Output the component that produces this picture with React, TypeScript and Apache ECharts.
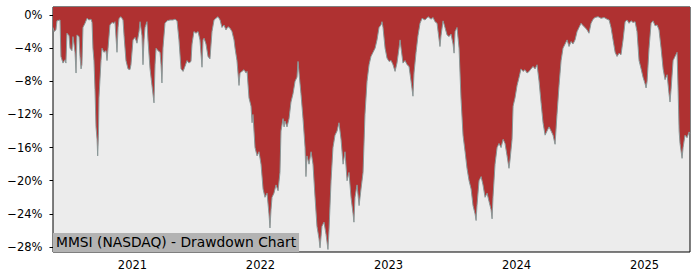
import React, { useEffect, useRef } from "react";
import * as echarts from "echarts";

// Time in decimal years
const dates: number[] = [
  2020.379, 2020.387, 2020.402, 2020.410, 2020.434, 2020.441, 2020.457, 2020.473, 2020.480, 2020.488,
  2020.504, 2020.512, 2020.527, 2020.535, 2020.551, 2020.559, 2020.566, 2020.582, 2020.590, 2020.598,
  2020.605, 2020.613, 2020.629, 2020.645, 2020.660, 2020.676, 2020.684, 2020.691, 2020.699, 2020.707,
  2020.715, 2020.723, 2020.728, 2020.734, 2020.738, 2020.754, 2020.762, 2020.777, 2020.793, 2020.801,
  2020.809, 2020.824, 2020.840, 2020.855, 2020.863, 2020.879, 2020.887, 2020.895, 2020.910, 2020.926,
  2020.934, 2020.949, 2020.965, 2020.980, 2020.988, 2021.004, 2021.020, 2021.035, 2021.051, 2021.059,
  2021.074, 2021.082, 2021.090, 2021.098, 2021.113, 2021.121, 2021.137, 2021.152, 2021.168, 2021.176,
  2021.184, 2021.199, 2021.215, 2021.223, 2021.230, 2021.238, 2021.254, 2021.270, 2021.293, 2021.316,
  2021.332, 2021.348, 2021.363, 2021.379, 2021.395, 2021.410, 2021.426, 2021.441, 2021.457, 2021.465,
  2021.480, 2021.496, 2021.512, 2021.527, 2021.543, 2021.551, 2021.559, 2021.574, 2021.590, 2021.605,
  2021.621, 2021.637, 2021.652, 2021.668, 2021.684, 2021.699, 2021.715, 2021.730, 2021.746, 2021.762,
  2021.777, 2021.793, 2021.801, 2021.816, 2021.832, 2021.840, 2021.855, 2021.871, 2021.887, 2021.895,
  2021.910, 2021.926, 2021.934, 2021.941, 2021.957, 2021.973, 2021.988, 2022.004, 2022.020, 2022.035,
  2022.051, 2022.066, 2022.074, 2022.082, 2022.090, 2022.105, 2022.121, 2022.137, 2022.152, 2022.160,
  2022.176, 2022.184, 2022.191, 2022.207, 2022.223, 2022.238, 2022.254, 2022.270, 2022.285, 2022.293,
  2022.301, 2022.316, 2022.332, 2022.348, 2022.355, 2022.363, 2022.379, 2022.395, 2022.410, 2022.426,
  2022.441, 2022.457, 2022.465, 2022.480, 2022.496, 2022.512, 2022.527, 2022.535, 2022.551, 2022.566,
  2022.582, 2022.598, 2022.613, 2022.629, 2022.645, 2022.660, 2022.676, 2022.691, 2022.707, 2022.723,
  2022.730, 2022.738, 2022.754, 2022.770, 2022.785, 2022.801, 2022.816, 2022.832, 2022.848, 2022.863,
  2022.879, 2022.895, 2022.910, 2022.926, 2022.941, 2022.949, 2022.957, 2022.973, 2022.988, 2023.004,
  2023.020, 2023.035, 2023.051, 2023.066, 2023.082, 2023.090, 2023.098, 2023.113, 2023.129, 2023.145,
  2023.160, 2023.176, 2023.191, 2023.199, 2023.215, 2023.230, 2023.246, 2023.262, 2023.285, 2023.309,
  2023.332, 2023.348, 2023.363, 2023.379, 2023.387, 2023.402, 2023.410, 2023.426, 2023.441, 2023.457,
  2023.473, 2023.488, 2023.504, 2023.512, 2023.520, 2023.535, 2023.551, 2023.566, 2023.582, 2023.598,
  2023.613, 2023.629, 2023.645, 2023.660, 2023.676, 2023.684, 2023.691, 2023.707, 2023.723, 2023.738,
  2023.754, 2023.770, 2023.785, 2023.801, 2023.809, 2023.816, 2023.832, 2023.848, 2023.863, 2023.879,
  2023.895, 2023.910, 2023.926, 2023.941, 2023.949, 2023.965, 2023.973, 2023.988, 2024.004, 2024.020,
  2024.035, 2024.051, 2024.066, 2024.082, 2024.098, 2024.113, 2024.129, 2024.145, 2024.160, 2024.176,
  2024.191, 2024.207, 2024.223, 2024.238, 2024.254, 2024.270, 2024.285, 2024.301, 2024.316, 2024.332,
  2024.348, 2024.363, 2024.379, 2024.395, 2024.410, 2024.426, 2024.441, 2024.457, 2024.473, 2024.488,
  2024.504, 2024.520, 2024.535, 2024.551, 2024.566, 2024.582, 2024.598, 2024.613, 2024.637, 2024.660,
  2024.684, 2024.707, 2024.723, 2024.738, 2024.754, 2024.770, 2024.785, 2024.801, 2024.816, 2024.832,
  2024.848, 2024.863, 2024.879, 2024.895, 2024.910, 2024.926, 2024.941, 2024.957, 2024.973, 2024.988,
  2025.004, 2025.012, 2025.020, 2025.035, 2025.051, 2025.066, 2025.082, 2025.098, 2025.113, 2025.129,
  2025.145, 2025.160, 2025.176, 2025.191, 2025.199, 2025.207, 2025.223, 2025.238, 2025.254, 2025.262,
  2025.270, 2025.277, 2025.293, 2025.301, 2025.316, 2025.332, 2025.348, 2025.355,
];

// Drawdown in percent
const drawdown: number[] = [
  -1.5, -2.0, -1.8, -0.7, -0.6, -5.0, -5.8, -5.4, -5.8, -2.2,
  -2.5, -4.0, -4.3, -2.6, -4.5, -7.0, -2.4, -2.6, -5.0, -6.5,
  -6.0, -1.5, -1.0, -0.4, -0.6, -0.5, -0.9, -4.0, -5.5, -9.0,
  -13.5, -15.0, -17.0, -14.5, -10.0, -5.5, -4.0, -4.5, -4.3, -5.5,
  -4.0, -1.2, -0.9, -1.0, -0.8, -4.5, -1.5, -0.4, -0.2, -0.6,
  -2.5, -5.5, -6.5, -6.6, -6.0, -3.0, -2.7, -3.4, -2.0, -0.8,
  -2.5, -6.0, -3.0, -1.5, -0.8, -3.0, -6.5, -8.5, -10.6, -6.0,
  -4.0, -4.3, -4.5, -6.0, -8.2, -4.0, -1.0, -0.7, -0.6, -0.6,
  -0.5, -0.7, -3.0, -6.5, -6.8, -6.2, -5.5, -5.8, -5.6, -3.5,
  -2.0, -2.2, -2.0, -3.0, -6.3, -3.0, -2.8, -3.5, -5.0, -5.3,
  -2.0, -0.6, -0.4, -0.2, -0.6, -1.5, -1.2, -1.8, -1.4, -1.6,
  -2.0, -3.0, -4.0, -5.5, -8.5, -7.0, -6.8, -6.6, -7.0, -6.8,
  -10.0, -11.0, -13.0, -12.0, -16.0, -17.0, -16.5, -18.0, -21.0, -22.0,
  -21.5, -24.0, -25.7, -23.5, -22.0, -21.5, -20.5, -21.2, -19.0, -14.0,
  -12.5, -13.5, -12.8, -13.5, -12.5, -10.5, -9.5, -8.0, -7.5, -5.6,
  -7.0, -9.5, -12.5, -16.0, -19.5, -17.0, -18.0, -16.5, -18.0, -22.0,
  -25.5, -27.0, -28.1, -25.5, -25.0, -26.5, -28.3, -26.0, -20.0, -16.0,
  -14.5, -14.0, -13.0, -15.0, -18.0, -16.5, -20.0, -19.0, -22.0, -24.0,
  -25.0, -22.0, -20.5, -23.0, -21.0, -19.0, -12.0, -8.0, -6.0, -5.0,
  -4.5, -4.0, -3.0, -1.5, -1.2, -0.8, -1.5, -4.0, -5.2, -5.6,
  -5.5, -6.0, -6.8, -5.8, -4.0, -3.0, -4.0, -5.8, -5.5, -6.0,
  -6.2, -8.0, -9.8, -7.0, -4.5, -2.5, -1.0, -0.4, -0.6, -0.2,
  -0.5, -0.3, -0.8, -1.0, -2.0, -3.8, -2.5, -0.7, -1.5, -2.4,
  -2.6, -2.3, -3.5, -4.6, -2.0, -1.5, -4.0, -10.0, -14.5, -16.5,
  -18.5, -20.0, -21.0, -23.0, -24.0, -24.8, -23.0, -20.0, -19.5, -20.5,
  -22.0, -21.5, -22.5, -23.5, -24.6, -22.0, -18.0, -16.0, -15.5, -16.0,
  -15.0, -15.5, -17.0, -18.5, -17.5, -15.0, -11.0, -10.0, -8.5, -7.5,
  -6.5, -6.8, -6.6, -7.0, -6.8, -6.5, -6.2, -6.5, -6.0, -8.0,
  -10.5, -13.0, -14.5, -14.0, -13.5, -14.0, -14.5, -15.6, -12.0, -8.5,
  -5.5, -4.0, -3.5, -3.0, -3.8, -3.2, -3.5, -3.0, -2.0, -1.5,
  -1.0, -1.3, -1.5, -1.8, -2.2, -1.0, -0.5, -0.3, -0.2, -0.4,
  -0.3, -0.5, -0.6, -1.5, -3.0, -4.5, -5.0, -4.6, -4.8, -3.0,
  -0.8, -0.6, -1.0, -0.7, -0.9, -0.8, -2.0, -5.5, -6.5, -7.5,
  -8.3, -8.8, -8.0, -4.0, -1.0, -0.7, -1.3, -1.2, -1.8, -4.0,
  -6.5, -7.8, -7.2, -9.5, -10.5, -9.0, -5.5, -5.0, -4.5, -9.0,
  -14.0, -15.5, -17.3, -16.0, -14.5, -14.8, -14.1, -14.3,
];

const yTicks: number[] = [0, -4, -8, -12, -16, -20, -24, -28];
const xTicks: number[] = [2021, 2022, 2023, 2024, 2025];
const titleText = "MMSI (NASDAQ) - Drawdown Chart";

const FONT = "DejaVu Sans";

export default function App() {
  const ref = useRef<HTMLDivElement>(null);
  useEffect(() => {
    if (!ref.current) return;
    const chart = echarts.init(ref.current, undefined, { renderer: "svg" });
    chart.setOption({
      animation: false,
      backgroundColor: "#ffffff",
      grid: {
        left: 53,
        right: 10,
        top: 7,
        bottom: 28,
        show: true,
        backgroundColor: "#ececec",
        borderColor: "#000000",
        borderWidth: 1,
        outerBoundsMode: "none",
      },
      title: {
        text: titleText,
        left: 53,
        top: 233,
        padding: [1, 3, 2, 3],
        backgroundColor: "#b3b3b3",
        textStyle: {
          fontFamily: FONT,
          fontSize: 13.8,
          fontWeight: "normal",
          color: "#000000",
          lineHeight: 16,
        },
      },
      xAxis: {
        type: "value",
        min: dates[0],
        max: dates[dates.length - 1],
        splitLine: { show: false },
        axisLine: { show: false },
        axisTick: {
          show: true,
          length: 3.5,
          customValues: xTicks,
          lineStyle: { color: "#000" },
        },
        axisLabel: {
          customValues: xTicks,
          margin: 7,
          fontFamily: FONT,
          fontSize: 11.5,
          color: "#000",
          formatter: (v: number) => String(Math.round(v)),
        },
      },
      yAxis: {
        type: "value",
        min: -28.6,
        max: 0.97,
        splitLine: { show: false },
        axisLine: { show: false },
        axisTick: {
          show: true,
          length: 3.5,
          customValues: yTicks,
          lineStyle: { color: "#000" },
        },
        axisLabel: {
          customValues: yTicks,
          margin: 10.5,
          fontFamily: FONT,
          fontSize: 11.5,
          color: "#000",
          formatter: (v: number) => (v < 0 ? "\u2212" : "") + Math.abs(v) + "%",
        },
      },
      series: [
        {
          type: "line",
          data: dates.map((t, i) => [t, drawdown[i]]),
          showSymbol: false,
          symbol: "none",
          lineStyle: { color: "#8a9898", width: 1 },
          areaStyle: { color: "#af3131", opacity: 1, origin: "end" },
          z: 1,
        },
      ],
    });
    return () => chart.dispose();
  }, []);
  return (
    <div
      ref={ref}
      style={{ position: "absolute", left: 0, top: 0, width: 700, height: 280 }}
    />
  );
}
